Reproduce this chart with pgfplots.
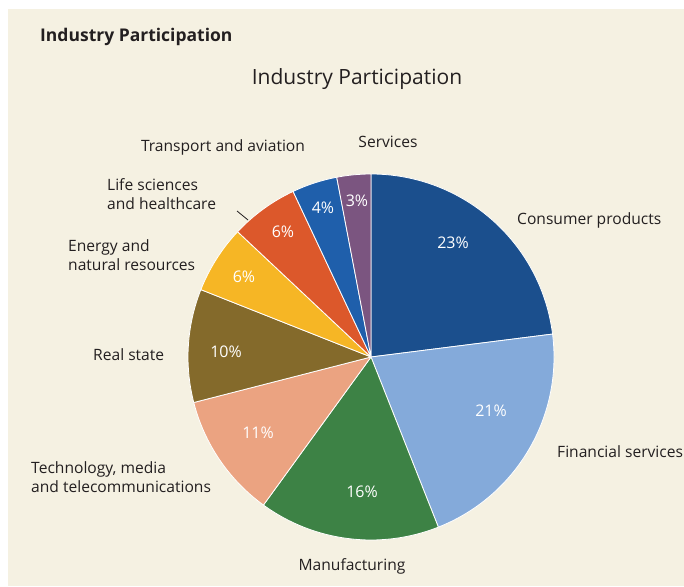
\documentclass[border=0pt]{standalone}
\usepackage{pgfplots}
\usepackage{pgfplotstable}
\pgfplotsset{compat=1.18}
\usepackage{fontspec}
\setmainfont{Open Sans}
\definecolor{bgcream}{HTML}{F5F1E2}
\definecolor{cConsumer}{HTML}{1B4F8D}
\definecolor{cFinancial}{HTML}{84AADA}
\definecolor{cManuf}{HTML}{3D8245}
\definecolor{cTech}{HTML}{EBA381}
\definecolor{cReal}{HTML}{846A2B}
\definecolor{cEnergy}{HTML}{F6B625}
\definecolor{cLife}{HTML}{DC582B}
\definecolor{cTrans}{HTML}{1F5FAB}
\definecolor{cServ}{HTML}{7B5580}
\definecolor{txt}{HTML}{231F20}

\pgfplotstableread[col sep=comma]{
name,value,col,lx,ly
Consumer products,23,cConsumer,453,343
Financial services,21,cFinancial,491,175
Manufacturing,16,cManuf,362,94
Technology media and telecommunications,11,cTech,258,153
Real state,10,cReal,226,234
Energy and natural resources,6,cEnergy,244,309
Life sciences and healthcare,6,cLife,283,354
Transport and aviation,4,cTrans,323,378
Services,3,cServ,357,385
}\piedata

\begin{document}
\begin{tikzpicture}
\begin{axis}[
  x=1pt, y=1pt, xmin=0, xmax=684, ymin=0, ymax=586,
  scale only axis, hide axis, clip=false,
]
\fill[white] (axis cs:0,0) rectangle (axis cs:684,586);
\fill[bgcream] (axis cs:8,0) rectangle (axis cs:684,577);
\gdef\cum{0}
\pgfplotsforeachungrouped \i in {0,...,8} {
  \pgfplotstablegetelem{\i}{value}\of\piedata \edef\v{\pgfplotsretval}
  \pgfplotstablegetelem{\i}{col}\of\piedata \edef\c{\pgfplotsretval}
  \pgfplotstablegetelem{\i}{lx}\of\piedata \edef\lx{\pgfplotsretval}
  \pgfplotstablegetelem{\i}{ly}\of\piedata \edef\ly{\pgfplotsretval}
  \pgfmathsetmacro{\aS}{90-3.6*\cum}
  \pgfmathsetmacro{\aE}{90-3.6*(\cum+\v)}
  \edef\doslice{\noexpand\fill[\c, draw=white, line width=0.8pt, line join=round] (axis cs:371,229) -- ++(\aS:183pt) arc[start angle=\aS, end angle=\aE, radius=183pt] -- cycle;
  \noexpand\node[white, font=\noexpand\fontsize{16}{18}\noexpand\selectfont] at (axis cs:\lx,\ly) {\v\noexpand\%};}
  \doslice
  \pgfmathsetmacro{\newcum}{\cum+\v}
  \xdef\cum{\newcum}
}
\draw[txt, line width=0.8pt] (axis cs:237,375) -- (axis cs:248,366);
\begin{scope}[every node/.style={text=txt, font=\fontsize{15.6}{19}\selectfont, inner sep=0pt}]
\node[anchor=west, font=\bfseries\fontsize{17.5}{20}\selectfont] at (axis cs:40,549) {Industry Participation};
\node[font=\fontsize{21}{24}\selectfont] at (axis cs:357,507) {Industry Participation};
\node at (axis cs:388,444) {Services};
\node at (axis cs:223,439) {Transport and aviation};
\node[anchor=west, align=left] at (axis cs:107,392) {Life sciences\\and healthcare};
\node[anchor=west, align=left] at (axis cs:68,331) {Energy and\\natural resources};
\node[anchor=west] at (axis cs:93,231) {Real state};
\node[anchor=west, align=left] at (axis cs:31,109) {Technology, media\\and telecommunications};
\node at (axis cs:352,20) {Manufacturing};
\node[anchor=west] at (axis cs:557,134) {Financial services};
\node[anchor=west] at (axis cs:517,366) {Consumer products};
\end{scope}
\end{axis}
\end{tikzpicture}
\end{document}
